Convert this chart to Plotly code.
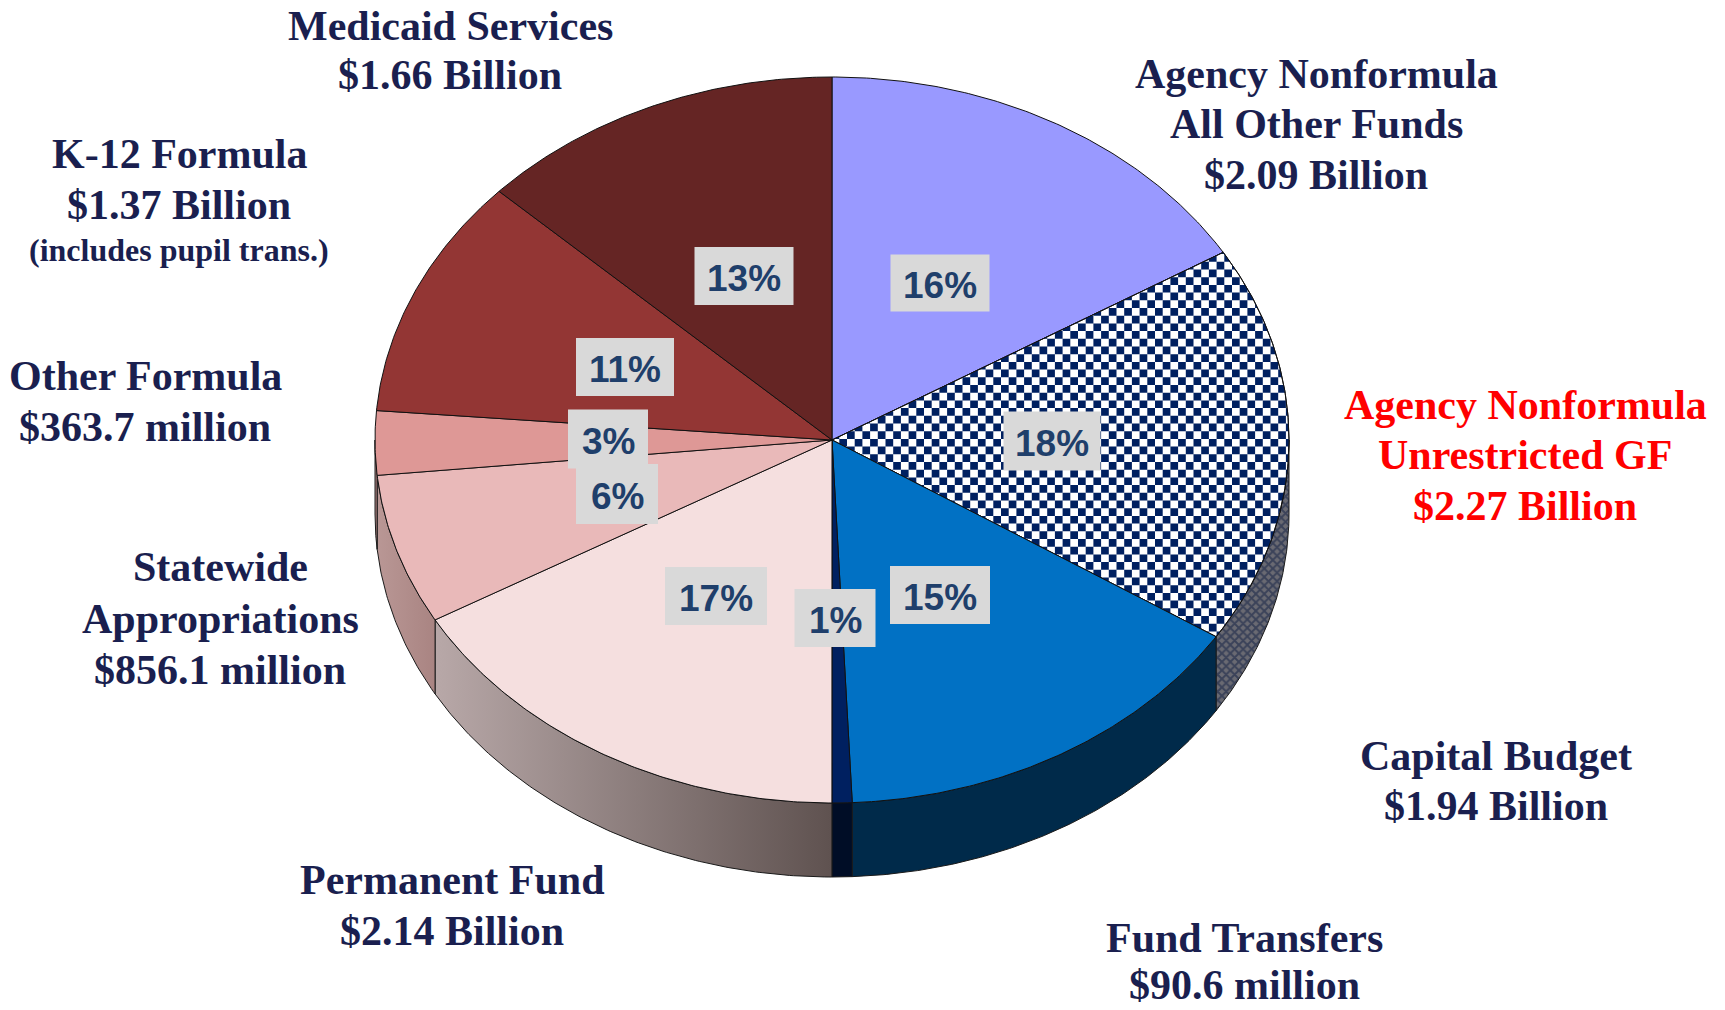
import numpy as np
import plotly.graph_objects as go

# ---- data ----
categories = ["Agency Nonformula All Other Funds", "Agency Nonformula Unrestricted GF", "Capital Budget",
              "Fund Transfers", "Permanent Fund", "Statewide Appropriations", "Other Formula",
              "K-12 Formula", "Medicaid Services"]
values_billion = [2.09, 2.27, 1.94, 0.0906, 2.14, 0.8561, 0.3637, 1.37, 1.66]
percent_labels = ["16%", "18%", "15%", "1%", "17%", "6%", "3%", "11%", "13%"]
label_lines = [
    ["Agency Nonformula", "All Other Funds", "$2.09 Billion"],
    ["Agency Nonformula", "Unrestricted GF", "$2.27 Billion"],
    ["Capital Budget", "$1.94 Billion"],
    ["Fund Transfers", "$90.6 million"],
    ["Permanent Fund", "$2.14 Billion"],
    ["Statewide", "Appropriations", "$856.1 million"],
    ["Other Formula", "$363.7 million"],
    ["K-12 Formula", "$1.37 Billion", "(includes pupil trans.)"],
    ["Medicaid Services", "$1.66 Billion"],
]

# ---- styles and layout ----
top_colors = ["#9999ff", "#ffffff", "#0171c4", "#002060", "#f5dfdf", "#e9b9b9", "#de9896", "#933634", "#652524"]
side_colors = [None, None, "#002a4a", "#000d26",
               ["#b8a8a8", "#5f5250"], ["#b99795", "#a98482"], "#a87f7d", "#6e2826", "#4a1a1a"]
CX, CY, RX, RY, DEPTH = 832, 440, 457, 363, 74
CELL = 7.7
NAVY = "#1a1f4f"
label_x = [1316, 1525, 1496, 1244, 452, 220, 145, 179, 450]
label_y = [[74, 124, 175], [405, 455, 506], [756, 806], [938, 985], [880, 931],
           [567, 619, 670], [376, 427], [154, 205, 250], [26, 75]]
label_color = [NAVY, "#ff0000", NAVY, NAVY, NAVY, NAVY, NAVY, NAVY, NAVY]
box_cx = [940, 1052, 940, 835, 716, 617, 608, 625, 744]
box_cy = [283, 441, 595, 618, 596, 494, 439, 367, 276]
box_w = [99, 97, 100, 81, 102, 82, 80, 98, 99]
box_h = [57, 59, 58, 58, 58, 60, 59, 58, 58]

total = sum(values_billion)
edges = np.cumsum([0] + values_billion) / total * 2 * np.pi


def ex(a):
    return CX + RX * np.sin(a)


def ey(a):
    return CY - RY * np.cos(a)


def arc(a0, a1):
    n = max(3, int(abs(a1 - a0) * 120))
    return np.linspace(a0, a1, n)


def clip_convex(poly, clip):
    """Sutherland-Hodgman: clip polygon `poly` by the convex polygon `clip` (clockwise on screen)."""
    out = poly
    for i in range(len(clip)):
        ax, ay = clip[i]
        bx, by = clip[(i + 1) % len(clip)]
        side = lambda p: (bx - ax) * (p[1] - ay) - (by - ay) * (p[0] - ax)
        res = []
        for j in range(len(out)):
            p, q = out[j], out[(j + 1) % len(out)]
            sp, sq = side(p), side(q)
            if sp >= 0:
                res.append(p)
            if (sp >= 0) != (sq >= 0):
                t = sp / (sp - sq)
                res.append((p[0] + t * (q[0] - p[0]), p[1] + t * (q[1] - p[1])))
        out = res
        if not out:
            return []
    return out


fig = go.Figure()

# side walls
for i, c in enumerate(side_colors):
    a0, a1 = max(edges[i], np.pi / 2), min(edges[i + 1], 3 * np.pi / 2)
    if a1 <= a0:
        continue
    t = arc(a0, a1)
    xs = np.r_[ex(t), ex(t[::-1])]
    ys = np.r_[ey(t), ey(t[::-1]) + DEPTH]
    xs = np.r_[xs, xs[0]]
    ys = np.r_[ys, ys[0]]
    kw = {}
    if c is None:
        kw["fillcolor"] = "#3c4258"
        kw["fillpattern"] = dict(shape="x", fgcolor="#0b1a40", bgcolor="#6a6a72", size=6, solidity=0.55)
    elif isinstance(c, list):
        kw["fillgradient"] = dict(type="horizontal", colorscale=[[0, c[0]], [1, c[1]]])
    else:
        kw["fillcolor"] = c
    fig.add_trace(go.Scatter(x=xs, y=ys, mode="lines", fill="toself", name=categories[i] + " side",
                             line=dict(color="#1a1a1a", width=1), hoverinfo="skip", showlegend=False, **kw))

# top faces
for i, c in enumerate(top_colors):
    t = arc(edges[i], edges[i + 1])
    xs = np.r_[CX, ex(t), CX]
    ys = np.r_[CY, ey(t), CY]
    fig.add_trace(go.Scatter(x=xs, y=ys, mode="lines", fill="toself", fillcolor=c, name=categories[i],
                             line=dict(color="#111111", width=1), showlegend=False,
                             hovertemplate=categories[i] + ": " + percent_labels[i] + "<extra></extra>"))
    if i == 1:  # checkerboard
        wedge = [(CX, CY)] + list(zip(ex(t), ey(t)))
        cx_, cy_ = [], []
        for r in range(int((CY - RY) // CELL), int((CY + RY) // CELL) + 1):
            for q in range(int(CX // CELL), int((CX + RX) // CELL) + 1):
                if (r + q) % 2:
                    continue
                sq = [(q * CELL, r * CELL), ((q + 1) * CELL, r * CELL),
                      ((q + 1) * CELL, (r + 1) * CELL), (q * CELL, (r + 1) * CELL)]
                pts = clip_convex(sq, wedge)
                if len(pts) >= 3:
                    cx_ += [p[0] for p in pts] + [pts[0][0], None]
                    cy_ += [p[1] for p in pts] + [pts[0][1], None]
        fig.add_trace(go.Scatter(x=cx_, y=cy_, mode="lines", fill="toself", fillcolor="#002060",
                                 line=dict(width=0), hoverinfo="skip", showlegend=False))
        fig.add_trace(go.Scatter(x=xs, y=ys, mode="lines", line=dict(color="#111111", width=1),
                                 hoverinfo="skip", showlegend=False))

ann, shapes = [], []
# percent boxes
for i, p in enumerate(percent_labels):
    shapes.append(dict(type="rect", xref="x", yref="y", line=dict(width=0), fillcolor="#d9d9d9",
                       x0=box_cx[i] - box_w[i] / 2, x1=box_cx[i] + box_w[i] / 2,
                       y0=box_cy[i] - box_h[i] / 2, y1=box_cy[i] + box_h[i] / 2))
    ann.append(dict(x=box_cx[i], y=box_cy[i] + 2, text="<b>%s</b>" % p, showarrow=False, xref="x", yref="y",
                    font=dict(family="Liberation Sans", size=37, color="#1f3f6b")))
# outside labels
for i, lines in enumerate(label_lines):
    for ln, yy in zip(lines, label_y[i]):
        small = ln.startswith("(")
        ann.append(dict(x=label_x[i], y=yy, text="<b>%s</b>" % ln, showarrow=False, xref="x", yref="y",
                        font=dict(family="Liberation Serif", size=32 if small else 42, color=label_color[i])))

fig.update_layout(
    width=1725, height=1010, margin=dict(l=0, r=0, t=0, b=0),
    paper_bgcolor="white", plot_bgcolor="white", showlegend=False, annotations=ann, shapes=shapes,
    xaxis=dict(range=[0, 1725], visible=False, fixedrange=True),
    yaxis=dict(range=[1010, 0], visible=False, fixedrange=True),
)
fig.write_html("out.html", post_script="document.body.style.margin='0';document.body.style.overflow='hidden';",
               config=dict(displayModeBar=False))
